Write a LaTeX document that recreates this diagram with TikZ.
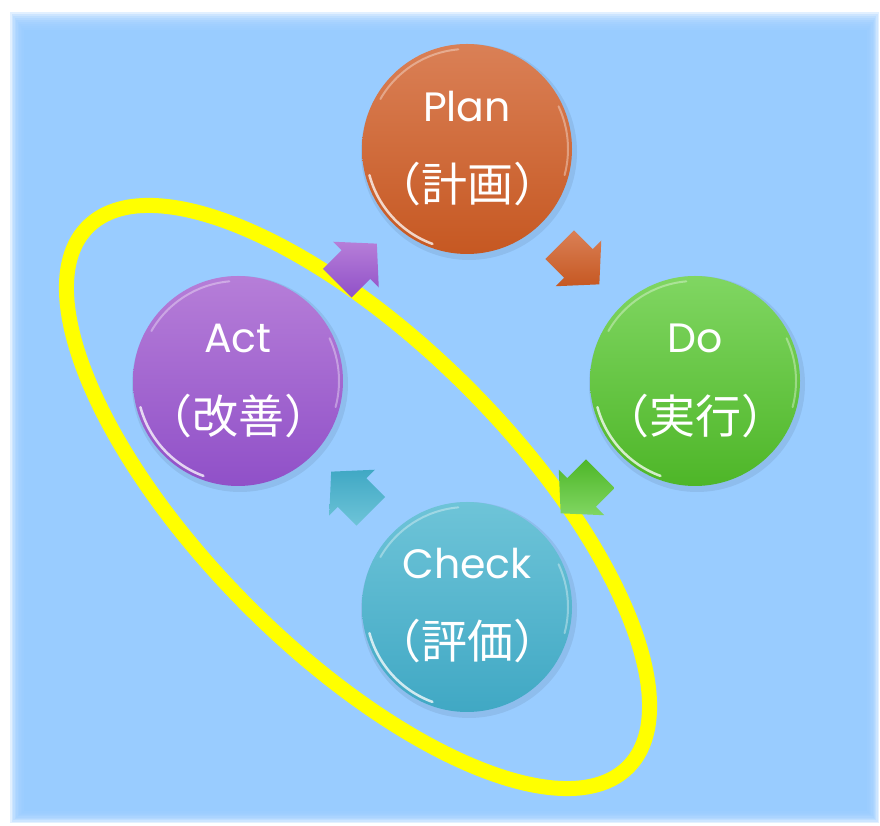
\documentclass[tikz,border=0pt]{standalone}
\usepackage{fontspec}
\setmainfont{Poppins}
\newfontfamily\jpfont{Noto Sans CJK JP}
\usetikzlibrary{shapes.arrows,calc}
\definecolor{bgblue}{RGB}{153,204,255}
\definecolor{hiyellow}{RGB}{255,255,0}
\definecolor{planT}{RGB}{218,128,86}
\definecolor{planB}{RGB}{198,88,34}
\definecolor{doT}{RGB}{128,214,98}
\definecolor{doB}{RGB}{78,182,40}
\definecolor{chkT}{RGB}{110,196,216}
\definecolor{chkB}{RGB}{64,168,196}
\definecolor{actT}{RGB}{182,126,216}
\definecolor{actB}{RGB}{144,80,200}
\begin{document}
\begin{tikzpicture}[x=1pt,y=1pt,
  ball/.style={circle, minimum size=210pt, inner sep=0pt, shading=axis},
  lbl/.style={text=white, inner sep=0pt, font=\fontsize{41}{44}\selectfont},
  jlbl/.style={text=white, inner sep=0pt, font=\jpfont\fontsize{46}{48}\selectfont},
  blockarrow/.style={single arrow, draw=none, minimum height=56pt,
    inner xsep=0pt, inner ysep=20pt, single arrow head extend=12pt,
    single arrow tip angle=95, shading=axis},
  rim/.style={white, line width=2.5pt, opacity=0.75, line cap=round},
  softrim/.style={white, line width=2pt, opacity=0.35, line cap=round}]
\useasboundingbox (0,0) rectangle (880,826);
\fill[white] (0,0) rectangle (880,826);
% soft-edged background panel
\foreach \i in {0,...,8}{
  \fill[bgblue, opacity=0.28] (10+1.5*\i, 3+1.3*\i) rectangle (879-1.3*\i, 814-2.0*\i);
}
\fill[bgblue] (24,15) rectangle (867,796);
% yellow ellipse
\coordinate (ec) at (358,329);
\begin{scope}[shift={(ec)}, rotate=-45]
  \draw[hiyellow, line width=15pt] (0,0) ellipse [x radius=382pt, y radius=155pt];
\end{scope}
% shadows
\foreach \c in {{467,677},{695,445},{238,445},{467,219}}{
  \fill[black, opacity=0.07] ($(\c)+(2,-3)$) circle [radius=108pt];
}
% circles
\node[ball, top color=planT, bottom color=planB] (plan) at (467,677) {};
\node[ball, top color=doT, bottom color=doB] (do) at (695,445) {};
\node[ball, top color=actT, bottom color=actB] (act) at (238,445) {};
\node[ball, top color=chkT, bottom color=chkB] (check) at (467,219) {};
% highlights
\foreach \n in {plan,do,act,check}{
  \draw[rim] ([shift={(195:101pt)}]\n.center) arc [start angle=195, end angle=250, radius=101pt];
  \draw[softrim] ([shift={(-15:101pt)}]\n.center) arc [start angle=-15, end angle=25, radius=101pt];
  \draw[softrim] ([shift={(95:100pt)}]\n.center) arc [start angle=95, end angle=150, radius=100pt];
}
% labels
\node[lbl] (planA) at ([yshift=42pt]plan.center) {Plan};
\node[jlbl] (planB) at ([yshift=-35pt]plan.center) {（計画）};
\node[lbl] (doA) at ([yshift=43pt]do.center) {Do};
\node[jlbl] (doB) at ([yshift=-35pt]do.center) {（実行）};
\node[lbl] (actA) at ([yshift=43pt]act.center) {Act};
\node[jlbl] (actB) at ([yshift=-35pt]act.center) {（改善）};
\node[lbl] (checkA) at ([yshift=43pt]check.center) {Check};
\node[jlbl] (checkB) at ([yshift=-34pt]check.center) {（評価）};
% block arrows between the stages
\node[blockarrow, rotate=-45, top color=planT, bottom color=planB] (a1) at ($($(plan)!0.5!(do)$)+(-8,7)$) {};
\node[blockarrow, rotate=-135, top color=doB, bottom color=doT] (a2) at ($($(do)!0.5!(check)$)+(6,7)$) {};
\node[blockarrow, rotate=135, top color=chkB, bottom color=chkT] (a3) at ($($(check)!0.5!(act)$)+(5,-4)$) {};
\node[blockarrow, rotate=45, top color=actT, bottom color=actB] (a4) at ($($(act)!0.5!(plan)$)+(-2,-5)$) {};
\end{tikzpicture}
\end{document}
